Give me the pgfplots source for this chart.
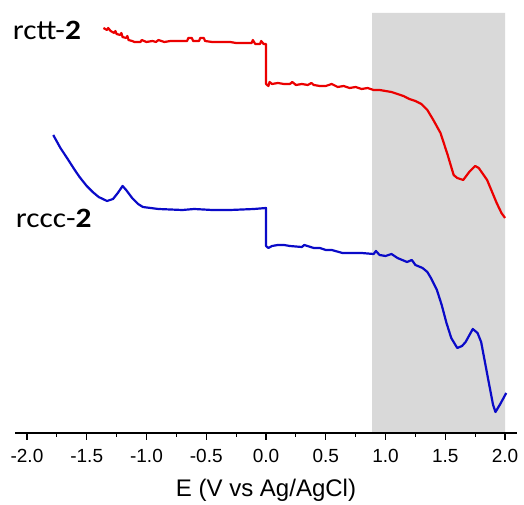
\documentclass[border=0pt]{standalone}
\usepackage{pgfplots}
\pgfplotsset{compat=1.18}
\usepackage{fontspec}
\usepackage{graphicx}
\setmainfont{Liberation Sans}
\newfontfamily\calib{Carlito}
\definecolor{shade}{RGB}{217,217,217}
\definecolor{cred}{RGB}{235,0,0}
\definecolor{cblue}{RGB}{10,10,200}
\begin{document}
\begin{tikzpicture}
\begin{axis}[
  scale only axis,
  width=502bp, height=420bp,
  xmin=-2.1, xmax=2.1, ymin=-433, ymax=-13,
  axis x line*=bottom, axis y line=none,
  axis line style={line width=1.4bp, -},
  xtick={-2,-1.5,-1,-0.5,0,0.5,1,1.5,2},
  xticklabels={-2.0,-1.5,-1.0,-0.5,0.0,0.5,1.0,1.5,2.0},
  minor x tick num=1,
  tick align=outside,
  major tick length=7bp, minor tick length=4bp,
  every tick/.style={line width=1.2bp, black},
  tick label style={font=\fontsize{19bp}{21bp}\selectfont},
  xticklabel style={anchor=north, inner sep=0pt, yshift=-9bp},
  xlabel={E (V vs Ag/AgCl)},
  xlabel style={font=\fontsize{24bp}{26bp}\selectfont, at={(rel axis cs:0.5,0)}, anchor=center, yshift=-57bp},
  clip=false,
  axis on top,
]
\addplot[draw=none, fill=shade] coordinates {(0.887,-433) (2.0,-433) (2.0,-13) (0.887,-13)} \closedcycle;
\addplot[cred, line width=2.2bp, line join=round] coordinates {
(-1.36,-28) (-1.33,-30) (-1.32,-28) (-1.30,-31) (-1.27,-33) (-1.26,-31) (-1.25,-34) (-1.22,-35) (-1.21,-33) (-1.2,-37) (-1.17,-38) (-1.16,-36) (-1.15,-40) (-1.12,-41) (-1.1,-42)
(-1.05,-42) (-1.04,-40) (-1.0,-42) (-0.95,-41) (-0.92,-42) (-0.9,-40) (-0.85,-42) (-0.8,-41) (-0.75,-41) (-0.7,-41) (-0.66,-41) (-0.65,-38) (-0.62,-38) (-0.61,-41) (-0.58,-41) (-0.56,-41) (-0.55,-38) (-0.52,-38) (-0.51,-41)
(-0.45,-42) (-0.4,-42) (-0.35,-42) (-0.3,-42) (-0.25,-43) (-0.2,-43) (-0.15,-43) (-0.12,-43) (-0.11,-40) (-0.09,-44) (-0.05,-44) (-0.04,-41) (-0.02,-44) (0.0,-44)
(0.0,-84) (0.02,-86) (0.03,-82) (0.05,-84) (0.1,-83) (0.15,-84) (0.2,-84) (0.22,-82) (0.25,-85) (0.3,-84) (0.35,-85) (0.38,-83) (0.4,-85) (0.45,-86) (0.5,-86) (0.55,-84) (0.6,-87) (0.65,-86) (0.7,-88) (0.75,-87) (0.8,-89) (0.85,-88) (0.9,-90) (0.95,-90) (1.0,-91) (1.05,-92) (1.1,-94) (1.15,-96) (1.2,-99)
(1.25,-101) (1.3,-104) (1.35,-110) (1.4,-120) (1.46,-133) (1.52,-155) (1.57,-175) (1.6,-178) (1.65,-180) (1.7,-172) (1.75,-166) (1.78,-168) (1.85,-180) (1.93,-203) (1.97,-213) (2.0,-218)
};
\addplot[cblue, line width=2.2bp, line join=round] coordinates {
(-1.78,-135) (-1.72,-148) (-1.67,-157) (-1.6,-170) (-1.56,-177) (-1.5,-186) (-1.45,-192) (-1.4,-197) (-1.33,-201) (-1.28,-199) (-1.24,-193) (-1.2,-186) (-1.17,-190) (-1.12,-198) (-1.07,-204) (-1.03,-207)
(-0.9,-209) (-0.7,-210) (-0.6,-209) (-0.45,-210) (-0.3,-210) (-0.2,-209.5) (-0.1,-209) (0.0,-208)
(0.0,-246) (0.02,-248) (0.05,-246) (0.1,-245) (0.15,-245) (0.2,-246) (0.3,-247) (0.32,-245) (0.4,-248) (0.45,-248) (0.5,-250) (0.55,-250) (0.64,-253) (0.7,-253) (0.8,-253) (0.9,-254) (0.92,-251) (0.95,-255) (1.0,-256) (1.05,-254) (1.1,-258) (1.18,-262) (1.22,-260) (1.25,-265) (1.31,-268) (1.35,-272) (1.38,-278) (1.43,-290) (1.47,-305) (1.51,-323) (1.55,-338) (1.6,-348) (1.64,-346) (1.67,-342) (1.73,-329) (1.77,-333) (1.8,-342) (1.86,-380) (1.9,-405) (1.92,-412) (1.96,-404) (2.01,-393)
};
\node[anchor=base west, inner sep=0pt] at (axis cs:-2.12,-40) {\scalebox{1.12}[1]{\calib\fontsize{28bp}{30bp}\selectfont rctt-\textbf{2}}};
\node[anchor=base west, inner sep=0pt] at (axis cs:-2.095,-228) {\scalebox{1.12}[1]{\calib\fontsize{28bp}{30bp}\selectfont rccc-\textbf{2}}};
\path (axis cs:-2.2255,0) rectangle (axis cs:2.1586,-504);
\end{axis}
\end{tikzpicture}
\end{document}
